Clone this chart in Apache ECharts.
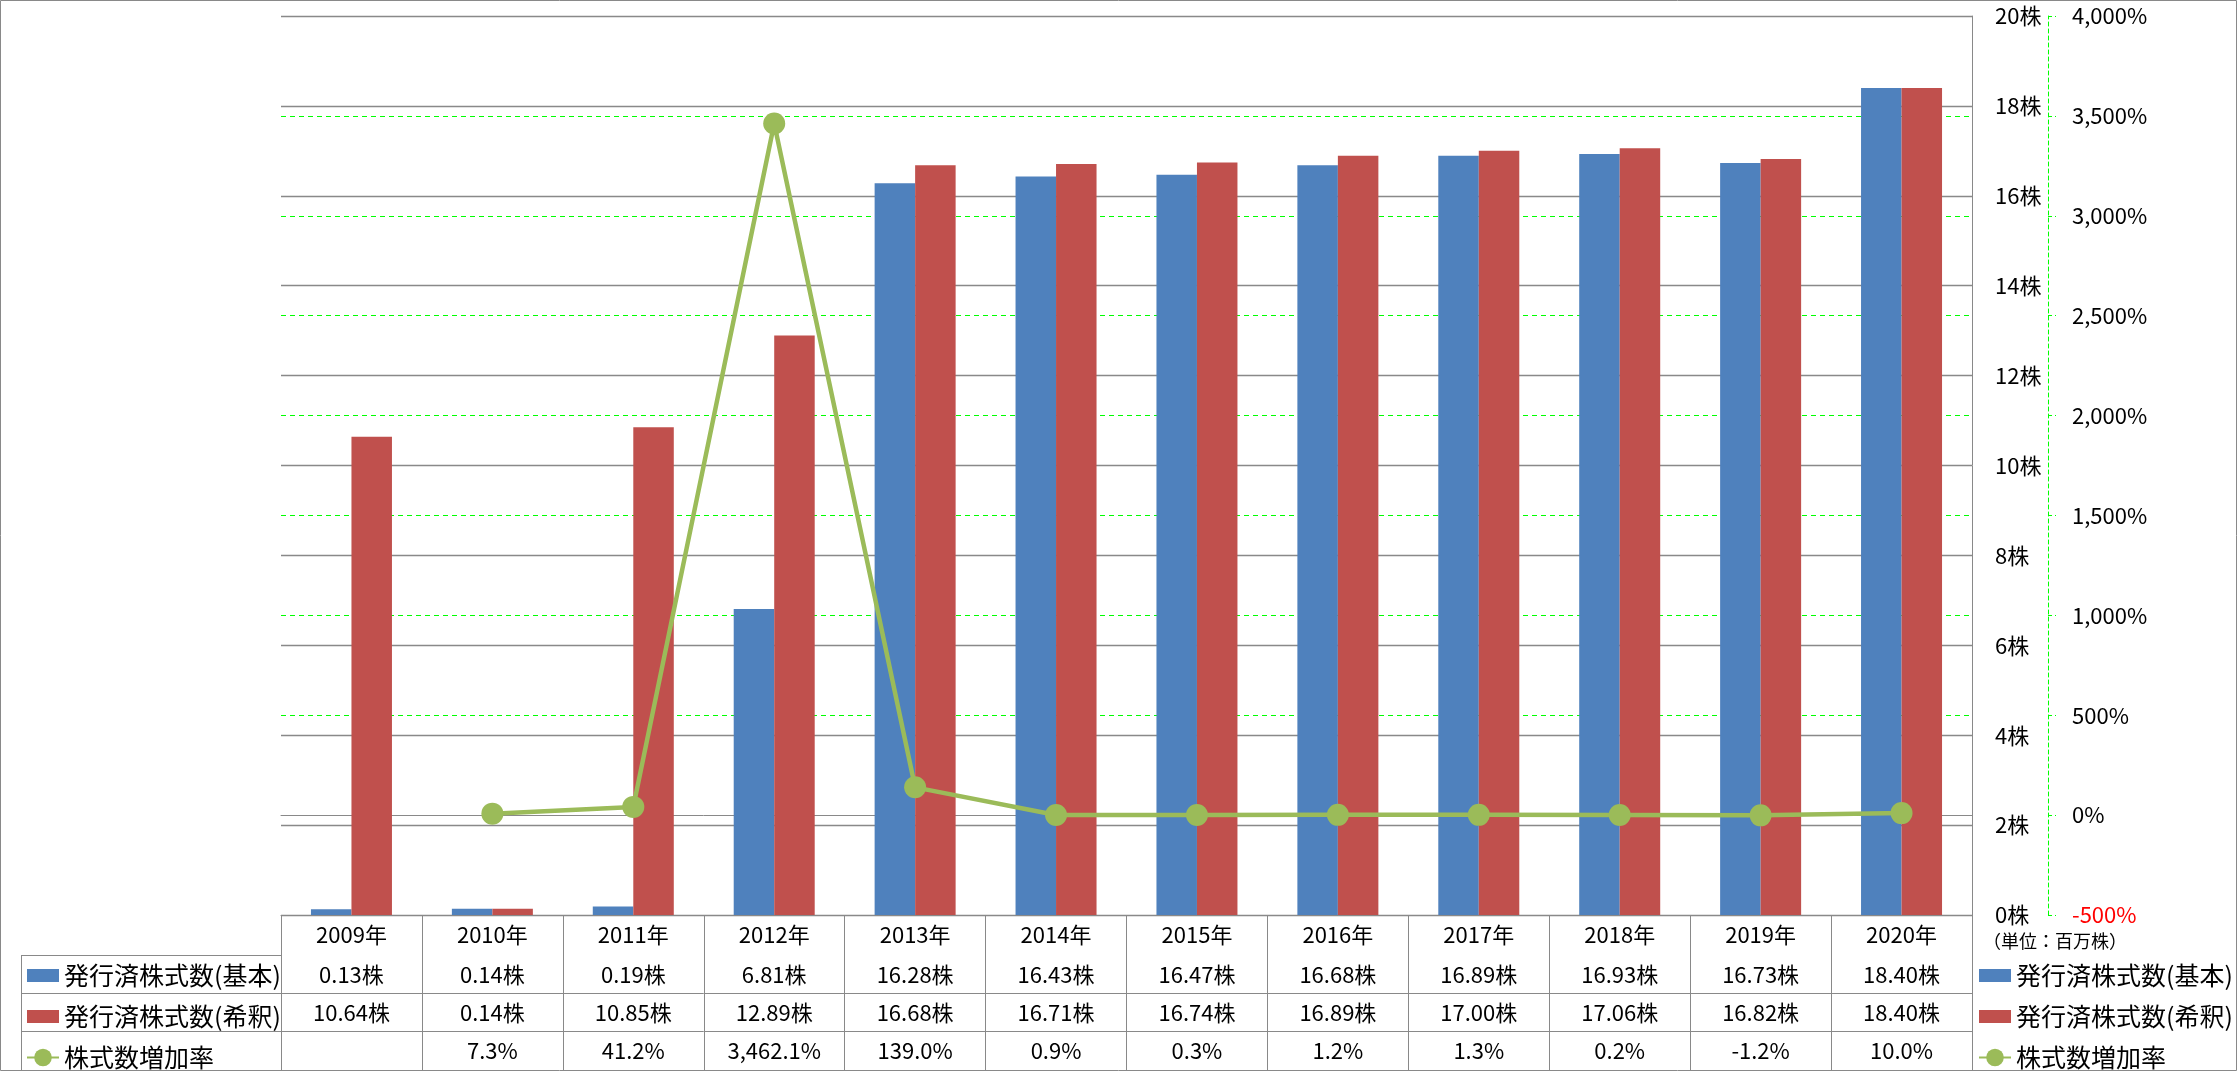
<!DOCTYPE html>
<html><head><meta charset="utf-8">
<script src="https://cdn.jsdelivr.net/npm/echarts@6/dist/echarts.min.js"></script>
<style>html,body{margin:0;padding:0;background:#fff}#c{width:2237px;height:1071px}</style>
</head><body><div id="c"></div>
<script>
const years = ['2009年','2010年','2011年','2012年','2013年','2014年','2015年','2016年','2017年','2018年','2019年','2020年'];
const basic = [0.13,0.14,0.19,6.81,16.28,16.43,16.47,16.68,16.89,16.93,16.73,18.40];
const diluted = [10.64,0.14,10.85,12.89,16.68,16.71,16.74,16.89,17.00,17.06,16.82,18.40];
const growth = [null,7.3,41.2,3462.1,139.0,0.9,0.3,1.2,1.3,0.2,-1.2,10.0];
const seriesNames = ['発行済株式数(基本)','発行済株式数(希釈)','株式数増加率'];
const unitText = '（単位：百万株）';

const FONT = '"Noto Sans CJK JP", "Noto Sans", sans-serif';
const GRAY = '#898989';
const BLUE = '#4F81BD', RED = '#C0504D', GREEN = '#9BBB59', LIME = '#00FF00';

function commas(s){ return s.replace(/\B(?=(\d{3})+(?!\d))/g, ','); }
function fmtPct(v){
  if (v === null || v === undefined) return '';
  const neg = v < 0; const a = Math.abs(v).toFixed(1).split('.');
  return (neg?'-':'') + commas(a[0]) + '.' + a[1] + '%';
}
const basicLabels = basic.map(v => v.toFixed(2) + '株');
const dilutedLabels = diluted.map(v => v.toFixed(2) + '株');
const growthLabels = growth.map(fmtPct);

const GL = 281, GR = 1972, GT = 16, GB = 915;
const barIcon = 'path://M0,0h32v0.01h-32zM0,4.5h32v13h-32zM0,22h32v0.01h-32z';

function tableAxis(data, offset, showTick){
  return {
    type:'category', data:data, gridIndex:0, position:'bottom', offset:offset,
    boundaryGap:true,
    axisLine:{show:true, lineStyle:{color:GRAY, width:1}},
    axisTick:{show:showTick, length:155, lineStyle:{color:GRAY, width:1}},
    axisLabel:{show:true, interval:0, fontSize:22, color:'#000', fontFamily:FONT, verticalAlign:'middle', margin:20},
    splitLine:{show:false}
  };
}

function legendCfg(left){
  return {
    orient:'vertical', left:left, top:963, padding:0, itemGap:16,
    itemWidth:32, itemHeight:22, selectedMode:false,
    textStyle:{fontSize:25, lineHeight:22, color:'#000', fontFamily:FONT},
    data:[{name:seriesNames[0], icon:barIcon},{name:seriesNames[1], icon:barIcon},{name:seriesNames[2]}]
  };
}

const chart = echarts.init(document.getElementById('c'), null, {renderer:'canvas'});
chart.setOption({
  backgroundColor:'#fff',
  animation:false,
  textStyle:{fontFamily:FONT},
  grid:{left:GL, right:2237-GR, top:GT, bottom:1071-GB, containLabel:false},
  legend:[legendCfg(26), legendCfg(1978)],
  xAxis:[
    tableAxis(years, 0, true),
    tableAxis(basicLabels, 40, false),
    tableAxis(dilutedLabels, 78, false),
    tableAxis(growthLabels, 116, false)
  ],
  yAxis:[
    {type:'value', position:'right', min:0, max:20, interval:2, z:1,
     axisLine:{show:true, lineStyle:{color:GRAY, width:1}},
     axisTick:{show:false},
     axisLabel:{formatter:'{value}株', fontSize:22, color:'#000', fontFamily:FONT, margin:23},
     splitLine:{show:true, lineStyle:{color:GRAY, width:1.3}}},
    {type:'value', position:'right', offset:76, min:-500, max:4000, interval:500, z:0,
     axisLine:{show:true, lineStyle:{color:LIME, width:1, type:[4,3]}},
     axisTick:{show:true, length:8, lineStyle:{color:LIME, width:1, type:[4,3]}},
     axisLabel:{formatter:function(v){ return (v<0?'-':'') + commas(String(Math.abs(v))) + '%'; },
                color:function(v){ return Number(v) < 0 ? '#FF0000' : '#000'; },
                fontSize:22, fontFamily:FONT, margin:24},
     splitLine:{show:true, lineStyle:{color:LIME, width:1, type:[5,4]}}}
  ],
  series:[
    {name:seriesNames[0], type:'bar', data:basic, xAxisIndex:0, yAxisIndex:0, barWidth:40.5, barGap:'0%', itemStyle:{color:BLUE}},
    {name:seriesNames[1], type:'bar', data:diluted, xAxisIndex:0, yAxisIndex:0, barWidth:40.5, barGap:'0%', itemStyle:{color:RED}},
    {name:seriesNames[2], type:'line', data:growth, xAxisIndex:0, yAxisIndex:1, z:5,
     symbol:'circle', symbolSize:22, lineStyle:{color:GREEN, width:4.5}, itemStyle:{color:GREEN}}
  ],
  graphic:[
    {type:'rect', shape:{x:0.5, y:0.5, width:2236, height:1070}, style:{fill:'none', stroke:GRAY, lineWidth:1}, silent:true},
    {type:'line', shape:{x1:21, y1:955.5, x2:GL, y2:955.5}, style:{stroke:GRAY, lineWidth:1}, silent:true},
    {type:'line', shape:{x1:21, y1:993.5, x2:GL, y2:993.5}, style:{stroke:GRAY, lineWidth:1}, silent:true},
    {type:'line', shape:{x1:21, y1:1031.5, x2:GL, y2:1031.5}, style:{stroke:GRAY, lineWidth:1}, silent:true},
    {type:'line', shape:{x1:21.5, y1:955, x2:21.5, y2:1070}, style:{stroke:GRAY, lineWidth:1}, silent:true},
    {type:'text', left:1983, top:932, style:{text:unitText, fontSize:18, fill:'#000', fontFamily:FONT}, silent:true}
  ]
});
</script>
</body></html>
